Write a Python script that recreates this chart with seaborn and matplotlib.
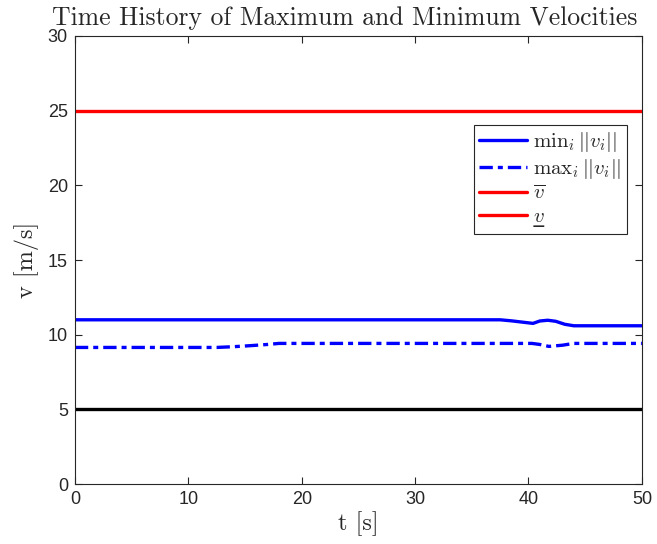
import numpy as np
import pandas as pd
import matplotlib
matplotlib.use("Agg")
import matplotlib.pyplot as plt
from matplotlib.lines import Line2D
import seaborn as sns

# data
t_min = [0, 37.5, 38.5, 39.5, 40.4, 41.0, 41.7, 42.4, 43.2, 44.0, 50]
v_min = [11.0, 11.0, 10.93, 10.84, 10.76, 10.92, 10.97, 10.9, 10.7, 10.6, 10.6]
t_max = [0, 12.5, 14, 15.5, 17, 18, 40.3, 41, 41.8, 43, 44, 50]
v_max = [9.15, 9.15, 9.2, 9.27, 9.35, 9.42, 9.42, 9.35, 9.22, 9.3, 9.42, 9.42]
t_lim = [0, 50]
v_upper = [25, 25]
v_lower = [5, 5]

sns.set_style("white")
plt.rcParams['mathtext.fontset'] = 'cm'
plt.rcParams['font.family'] = ['DejaVu Sans']

fig = plt.figure(figsize=(6.57, 5.44), dpi=100)
ax = fig.add_axes([0.114, 0.110, 0.863, 0.824])

lw = 2.4
sns.lineplot(x=t_min, y=v_min, ax=ax, color='blue', lw=lw, label=r'$\mathrm{min}_i\,||v_i||$')
sns.lineplot(x=t_max, y=v_max, ax=ax, color='blue', lw=lw, dashes=False,
             label=r'$\mathrm{max}_i\,||v_i||$')
ax.lines[-1].set_dashes((4, 1.5, 1.5, 1.5))
sns.lineplot(x=t_lim, y=v_upper, ax=ax, color='red', lw=lw, label=r'$\overline{v}$')
sns.lineplot(x=t_lim, y=v_lower, ax=ax, color='black', lw=lw, label='_nolegend_')

ax.set_xlim(0, 50)
ax.set_ylim(0, 30)
ax.set_xticks(np.arange(0, 51, 10))
ax.set_yticks(np.arange(0, 31, 5))

for s in ax.spines.values():
    s.set_color('#262626')
    s.set_linewidth(0.8)
ax.tick_params(direction='in', length=5, width=0.8, colors='#262626',
               labelsize=13, pad=5, top=True, right=True, bottom=True, left=True)
for lab in ax.get_xticklabels() + ax.get_yticklabels():
    lab.set_family('Liberation Sans')

ax.set_title('Time History of Maximum and Minimum Velocities',
             fontfamily='cmr10', fontsize=18.5, pad=8, x=0.476)
ax.set_xlabel('t [s]', fontfamily='cmr10', fontsize=17.5, labelpad=2)
ax.set_ylabel('v [m/s]', fontfamily='cmr10', fontsize=17.5, labelpad=6)

handles, labels = ax.get_legend_handles_labels()
handles.append(Line2D([], [], color='red', lw=lw))
try:
    from matplotlib.mathtext import MathTextParser
    MathTextParser('path').parse(r'$\underline{v}$')
    labels.append(r'$\underline{v}$')
except Exception:
    labels.append('$v$\u0332')
leg = ax.legend(handles, labels, loc='upper right', bbox_to_anchor=(0.9735, 0.801),
                borderaxespad=0, fontsize=15, frameon=True, fancybox=False,
                edgecolor='#262626', framealpha=1, handlelength=2.3,
                labelspacing=0.12, borderpad=0.25, handletextpad=0.3)
leg.get_frame().set_linewidth(0.8)

fig.savefig('out.png', dpi=100)
